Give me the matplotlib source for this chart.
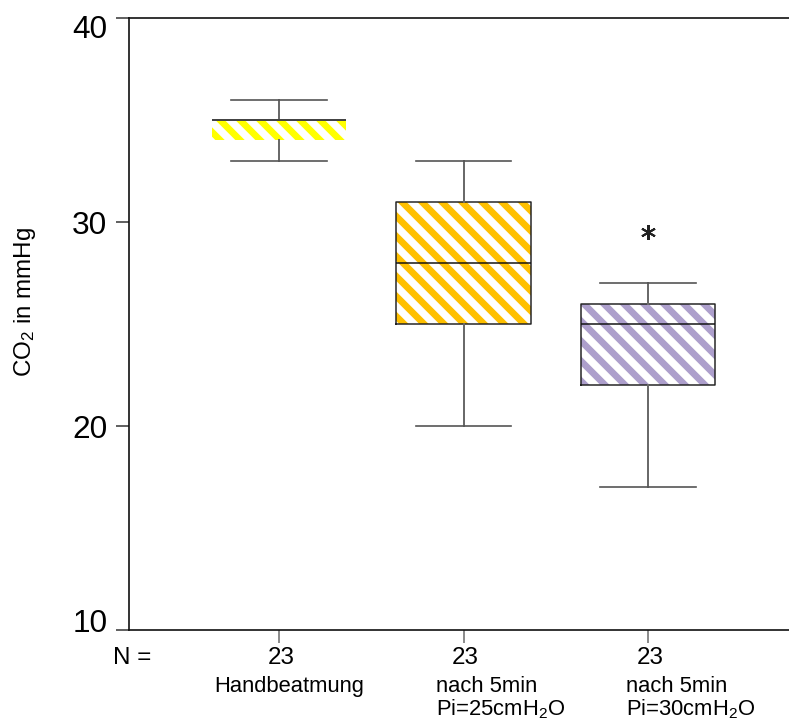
import matplotlib
matplotlib.use("Agg")
import matplotlib.pyplot as plt
from matplotlib.transforms import blended_transform_factory, ScaledTranslation

# ---- data ----
groups = ["Handbeatmung", "nach 5min\nPi=25cmH$_2$O", "nach 5min\nPi=30cmH$_2$O"]
n_values = [23, 23, 23]
whisker_low = [33, 20, 17]
q1 = [34, 25, 22]
median = [35, 28, 25]
q3 = [35, 31, 26]
whisker_high = [36, 33, 27]
outliers = [[], [], [29.5]]
colors = ["#FFFF00", "#FFC000", "#AD9FCC"]
y_ticks = [10, 20, 30, 40]

DPI = 120
plt.rcParams['hatch.linewidth'] = 4.0
plt.rcParams['mathtext.fontset'] = 'custom'
plt.rcParams['mathtext.rm'] = 'Liberation Sans'
plt.rcParams['mathtext.it'] = 'Liberation Sans'
font = ['Liberation Sans', 'DejaVu Sans']

fig = plt.figure(figsize=(789 / DPI, 726 / DPI), dpi=DPI)
ax = fig.add_axes([129 / 789, 1 - 630 / 726, 1 - 129 / 789, (630 - 18) / 726])

positions = [1, 2, 3]
stats = []
for i in range(3):
    stats.append(dict(med=median[i], q1=q1[i], q3=q3[i], whislo=whisker_low[i],
                      whishi=whisker_high[i], fliers=outliers[i]))

# hatched fill
fills = ax.bxp(stats, positions=positions, widths=0.73, patch_artist=True,
               showcaps=False, showfliers=False,
               boxprops=dict(facecolor='white', linewidth=0),
               whiskerprops=dict(linewidth=0), medianprops=dict(linewidth=0))
for b, c in zip(fills['boxes'], colors):
    b.set_hatch('\\\\')
    b.set_edgecolor(c)
    b.set_linewidth(0)

# outlines, whiskers, medians
art = ax.bxp(stats, positions=positions, widths=0.73, capwidths=0.52,
             boxprops=dict(color='#222222', linewidth=0.9),
             whiskerprops=dict(color='#6a6a6a', linewidth=1.2),
             capprops=dict(color='#555555', linewidth=1.0),
             medianprops=dict(color='#111111', linewidth=0.9),
             flierprops=dict(marker=(6, 2, 0), markersize=9, markeredgewidth=1.2,
                             markeredgecolor='#222222', linestyle='none'))
art['boxes'][0].set_visible(False)
art['medians'][0].set_color('#444444')
art['medians'][0].set_linewidth(1.2)

ax.set_ylim(10, 40)
ax.set_xlim(0.187, 3.764)
ax.set_yticks(y_ticks)
ax.set_yticklabels([str(v) for v in y_ticks], family=font, fontsize=19)
ax.set_xticks(positions)
ax.set_xticklabels([])
ax.tick_params(axis='y', direction='out', length=8, width=1, color='#444444', pad=5)
ax.tick_params(axis='x', direction='out', length=8, width=1, color='#777777')

# end labels sit inside the range as in the reference
labels = ax.get_yticklabels()
labels[0].set_transform(labels[0].get_transform() + ScaledTranslation(0, 9 / DPI, fig.dpi_scale_trans))
labels[-1].set_transform(labels[-1].get_transform() + ScaledTranslation(0, -8 / DPI, fig.dpi_scale_trans))

for s in ['left', 'bottom', 'top']:
    ax.spines[s].set_color('#111111')
    ax.spines[s].set_linewidth(1.0)
ax.spines['right'].set_visible(False)

ax.set_ylabel("CO$_2$ in mmHg", family=font, fontsize=14.5, va='center')
ax.yaxis.set_label_coords((25 - 129) / 660, (630 - 302) / 612)

# N row and group labels
tr = blended_transform_factory(ax.transData, fig.transFigure)
fig.text(132 / 789, 1 - 658 / 726, "N =", family=font, fontsize=14.5,
         ha='center', va='center')
label_offsets = [-0.352, -0.149, -0.119]
for p, n, g, off in zip(positions, n_values, groups, label_offsets):
    ax.text(p + 0.01, 1 - 658 / 726, str(n), transform=tr, family=font,
            fontsize=14.5, ha='center', va='center')
    ax.text(p + off, 1 - 676 / 726, g, transform=tr, family=font,
            fontsize=13.2, ha='left', va='top', linespacing=1.02)

fig.savefig("out.png", dpi=DPI)
